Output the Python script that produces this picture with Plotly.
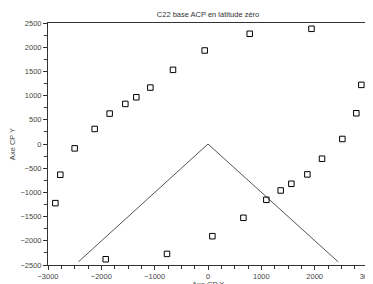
import plotly.graph_objects as go

# data
pts_x = [1940, 782, -62, -656, -1081, -1344, -1550, -1844, -2125, -2500, -2769, -2862,
         -1918, -769, 82, 664, 1094, 1363, 1563, 1863, 2138, 2519, 2781, 2875]
pts_y = [2380, 2277, 1932, 1532, 1166, 966, 828, 628, 311, -90, -635, -1222,
         -2381, -2271, -1905, -1525, -1153, -960, -822, -628, -304, 104, 635, 1222]
cone_x = [-2430, 0, 2440]
cone_y = [-2435, 0, -2435]

title = "C22 base ACP en latitude zéro"
xlabel = "Axe CP X"
ylabel = "Axe CP Y"
x_ticks = [-3000, -2000, -1000, 0, 1000, 2000, 3000]

fig = go.Figure()
fig.add_trace(go.Scatter(x=cone_x, y=cone_y, mode="lines",
                         line=dict(color="#555555", width=1), showlegend=False))
fig.add_trace(go.Scatter(x=pts_x, y=pts_y, mode="markers",
                         marker=dict(symbol="square-open", size=5.5, color="black",
                                     line=dict(width=1, color="black")),
                         showlegend=False))

font = dict(family="Liberation Sans, Arial, sans-serif", size=7.5, color="#444444")
axis_common = dict(showgrid=False, zeroline=False, showline=True, mirror=True,
                   linecolor="#333333", linewidth=1, ticks="outside", ticklen=4,
                   tickcolor="#333333", tickfont=font, automargin=False,
                   ticklabeloverflow="allow")
fig.update_layout(
    width=365, height=276,
    margin=dict(l=40, r=5, t=15, b=19),
    plot_bgcolor="white", paper_bgcolor="white",
    title=dict(text=title, x=0.548, xanchor="center", y=0.978, yanchor="middle",
               font=dict(family="Liberation Sans, Arial, sans-serif", size=7.5, color="#333333")),
    xaxis=dict(range=[-3000, 3000], tickmode="array", tickvals=x_ticks,
               minor=dict(tickmode="array",
                          tickvals=[v for v in range(-2750, 3000, 250) if v % 1000 != 0],
                          ticks="outside", ticklen=3, tickcolor="#333333", tickwidth=1),
               **axis_common),
    yaxis=dict(range=[-2500, 2500], dtick=500,
               title=dict(text=ylabel, font=font, standoff=6),
               minor=dict(tickmode="array",
                          tickvals=[v for v in range(-2250, 2500, 500)],
                          ticks="outside", ticklen=3, tickcolor="#333333", tickwidth=1),
               **axis_common),
    annotations=[dict(text=xlabel, xref="paper", yref="paper", x=0.5, y=0,
                      xanchor="center", yanchor="top", yshift=-13, showarrow=False,
                      font=font)],
)
fig.write_html("out.html")
